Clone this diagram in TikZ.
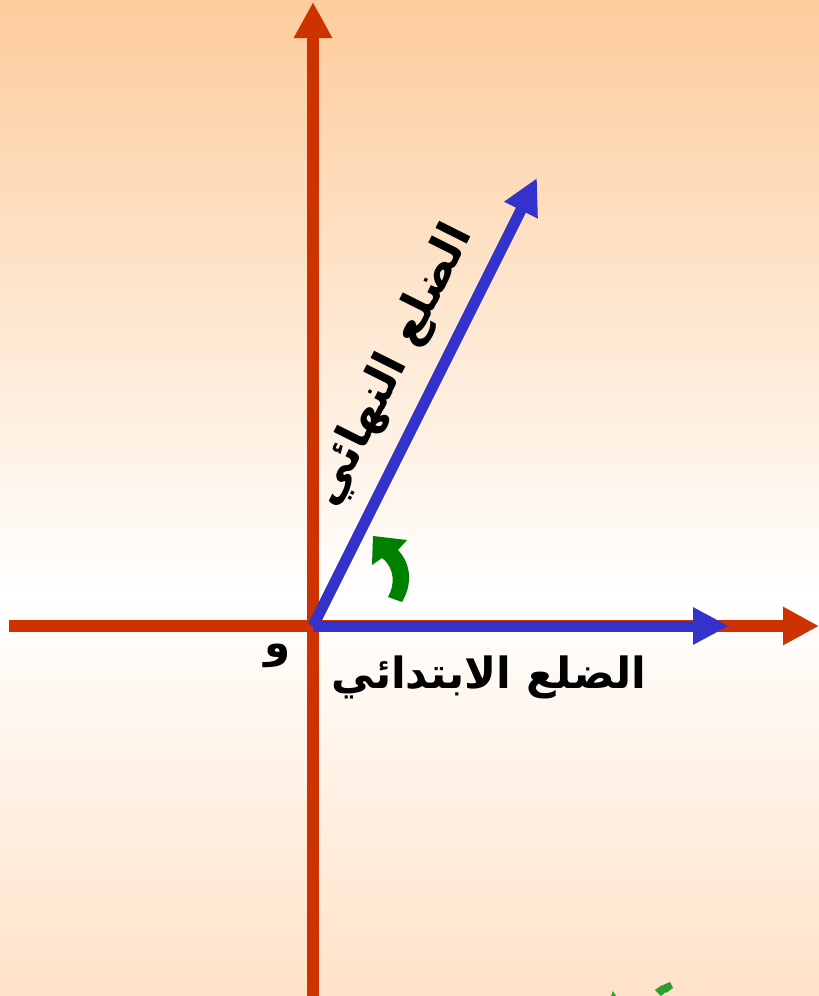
\documentclass[tikz,border=0pt]{standalone}
\usepackage{fontspec}
\usetikzlibrary{arrows.meta}
\TeXXeTstate=1
\newfontfamily\arabicfont[Script=Arabic]{DejaVu Sans}
\definecolor{axisred}{HTML}{CC3300}
\definecolor{vecblue}{HTML}{3333CC}
\definecolor{arcgreen}{HTML}{008000}
\definecolor{fraggreen}{HTML}{2E9E2E}
\definecolor{topc}{HTML}{FDCC9C}
\definecolor{botc}{HTML}{FFE2C8}
\pgfdeclareverticalshading{bgshade}{100bp}{color(0bp)=(botc); color(25bp)=(botc); color(45bp)=(white); color(75bp)=(topc); color(100bp)=(topc)}
\tikzset{
  axis/.style={draw=axisred, line width=12pt, -{Triangle[length=36pt,width=36pt]}},
  vector/.style={draw=vecblue, line width=11pt, -{Triangle[length=36pt,width=35pt]}},
  arlabel/.style={font=\arabicfont\bfseries\fontsize{43}{48}\selectfont, text=black, inner sep=0pt}
}
\begin{document}
\begin{tikzpicture}[x=1pt,y=-1pt]
\useasboundingbox (0,0) rectangle (819,996);
\fill[shading=bgshade] (0,0) rectangle (819,996);
% axes
\coordinate (O) at (313,626);
\coordinate (ybot) at (313,996);
\coordinate (ytop) at (313,2);
\coordinate (xleft) at (9,626);
\coordinate (xright) at (819,626);
\draw[axis] (ybot) -- (ytop);
\draw[axis] (xleft) -- (xright);
% vectors
\coordinate (init) at (729,626);
\coordinate (term) at (537,178);
\draw[vector] (O) -- (init);
\draw[vector] (O) -- (term);
% green curved arrow
\fill[arcgreen] (388,597) .. controls (395,585) and (395,568) .. (382,558) -- (372,565) -- (373,536) -- (407,540) -- (398,550) .. controls (412,565) and (412,585) .. (402,602) -- cycle;
% labels
\node[arlabel] (lblinit) at (489,677) {\beginR الضلع الابتدائي\endR};
\node[arlabel, font=\arabicfont\bfseries\fontsize{46}{52}\selectfont] (lblterm) at (393,366) [rotate=63.4] {\beginR الضلع النهائي\endR};
\node[arlabel, font=\arabicfont\bfseries\fontsize{42}{48}\selectfont] (lblO) at (278,656) {\beginR و\endR};
% cut-off green fragments at the bottom
\fill[fraggreen] (655,990) -- (662,985) -- (668,990) -- (661,996) -- cycle;
\fill[fraggreen] (663,985) -- (670,982) -- (673,988) -- (666,993) -- cycle;
\fill[fraggreen] (611,996) -- (613,991) -- (616,996) -- cycle;
\end{tikzpicture}
\end{document}
